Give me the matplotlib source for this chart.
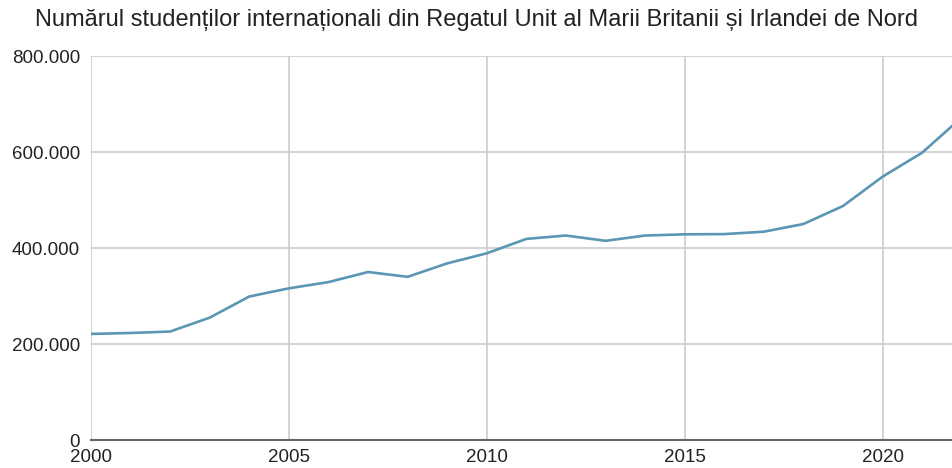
import matplotlib.pyplot as plt
from matplotlib.ticker import FuncFormatter

# Date (valori aproximative)
years = list(range(2000, 2023))
students = [
    221000, 223000, 226000, 255000, 299000, 316000, 329000, 350000,
    340000, 368000, 389000, 419000, 426000, 415000, 426000, 428500,
    429000, 434000, 450000, 487500, 548600, 598600, 672000,
]
y_ticks = [0, 200000, 400000, 600000, 800000]
x_ticks = [2000, 2005, 2010, 2015, 2020]
title = "Numărul studenților internaționali din Regatul Unit al Marii Britanii și Irlandei de Nord"

plt.rcParams["font.family"] = ["Liberation Sans", "DejaVu Sans"]

fig = plt.figure(figsize=(9.53, 4.68), dpi=100)
ax = fig.add_axes([0.0955, 0.0598, 0.9045, 0.8205])

ax.plot(years, students, color="#5b96b4", linewidth=1.9, solid_joinstyle="round")

ax.set_xlim(2000, 2021.78)
ax.set_ylim(0, 800000)
ax.set_xticks(x_ticks)
ax.set_yticks(y_ticks)
ax.yaxis.set_major_formatter(FuncFormatter(lambda v, p: f"{int(v):,}".replace(",", ".")))

ax.grid(True, color="#cccccc", linewidth=1.2)
ax.set_axisbelow(True)
for side in ["top", "right", "left"]:
    ax.spines[side].set_visible(False)
ax.spines["bottom"].set_color("#666666")
ax.spines["bottom"].set_linewidth(1.5)

ax.tick_params(axis="both", length=0, labelsize=13.5, colors="#222222")
ax.tick_params(axis="y", pad=8)
ax.tick_params(axis="x", pad=6.5)

fig.text(0.5, 0.957, title, ha="center", va="center", fontsize=17, color="#222222")

fig.savefig("out.png", dpi=100)
